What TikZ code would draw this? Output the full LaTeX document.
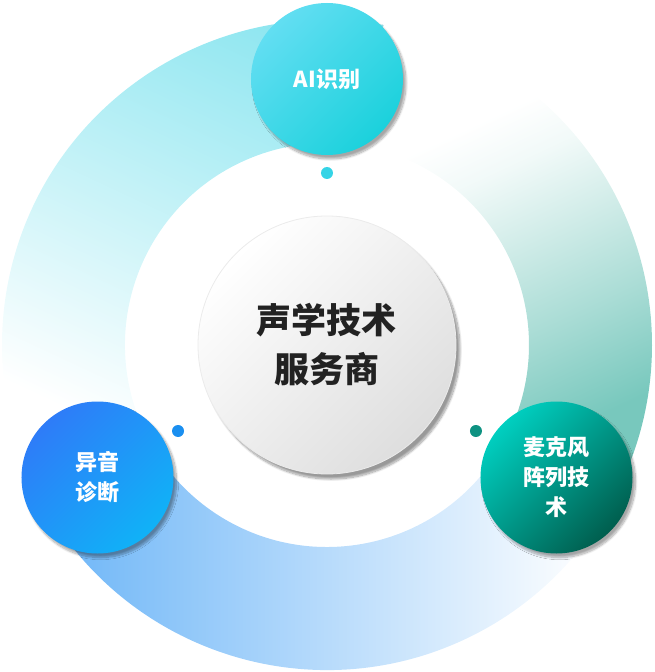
\documentclass[tikz,border=0pt]{standalone}
\usepackage{fontspec}
\setmainfont{Noto Sans CJK SC}
\usetikzlibrary{shadows.blur}
\definecolor{ringcyan}{HTML}{8EE6F0}
\definecolor{ringteal}{HTML}{78C8BD}
\definecolor{ringblue}{HTML}{68B3F7}
\definecolor{aitop}{HTML}{62DEF2}
\definecolor{aibot}{HTML}{1BD1DC}
\definecolor{diagtop}{HTML}{2E7CF8}
\definecolor{diagbot}{HTML}{10B2F7}
\definecolor{mictop}{HTML}{00CFC0}
\definecolor{micbot}{HTML}{005E4E}
\definecolor{dotai}{HTML}{35D4E6}
\definecolor{dotdiag}{HTML}{1A8FF0}
\definecolor{dotmic}{HTML}{0E9282}
\definecolor{hubtext}{HTML}{222222}
\pgfdeclareverticalshading{tealfade}{100bp}{color(0bp)=(ringteal); color(28bp)=(ringteal);
	color(42bp)=(ringteal!62); color(54bp)=(ringteal!32); color(63bp)=(ringteal!10); color(70bp)=(white); color(100bp)=(white)}
\tikzset{
	bubble/.style={circle, minimum size=152pt, inner sep=0pt, text=white, align=center,
		font=\fontsize{22}{30}\selectfont\bfseries, shading angle=45,
		blur shadow={shadow xshift=3pt, shadow yshift=-4pt, shadow blur steps=10, shadow opacity=35}},
	dot/.style={circle, minimum size=12pt, inner sep=0pt},
}

\begin{document}
\begin{tikzpicture}[x=1pt, y=1pt]
	\useasboundingbox (-327,-327) rectangle (327,345);

	% ring pieces
	\shade[top color=ringcyan, bottom color=white, shading angle=-25]
		(80:325) arc[start angle=80, end angle=200, radius=325]
		-- (200:202) arc[start angle=200, end angle=80, radius=202] -- cycle;
	\shade[shading=tealfade, shading angle=25]
		(67:325) arc[start angle=67, end angle=-25, radius=325]
		-- (-25:202) arc[start angle=-25, end angle=67, radius=202] -- cycle;
	\shade[left color=ringblue, right color=white]
		(205:325) arc[start angle=205, end angle=325, radius=325]
		-- (325:202) arc[start angle=325, end angle=205, radius=202] -- cycle;

	% hub
	\node[circle, minimum size=258pt, inner sep=0pt, top color=white, bottom color=black!13,
		shading angle=45, draw=black!8, line width=0.8pt,
		blur shadow={shadow xshift=4pt, shadow yshift=-5pt, shadow blur steps=12, shadow opacity=40},
		align=center, text=hubtext, font=\fontsize{35}{49}\selectfont\bfseries]
		(hub) at (0,0) {声学技术\\服务商};

	% outer bubbles
	\node[bubble, top color=aitop, bottom color=aibot, shading angle=45] (ai) at (90:266) {AI识别};
	\node[bubble, top color=diagtop, bottom color=diagbot, shading angle=45] (diag) at (210:265) {异音\\诊断};
	\node[bubble, top color=mictop, bottom color=micbot, shading angle=45] (mic) at (-30:265) {麦克风\\阵列技\\术};

	% dots
	\node[dot, fill=dotai] (aidot) at (90:172) {};
	\node[dot, fill=dotdiag] (diagdot) at (210:172) {};
	\node[dot, fill=dotmic] (micdot) at (-30:172) {};
\end{tikzpicture}
\end{document}
